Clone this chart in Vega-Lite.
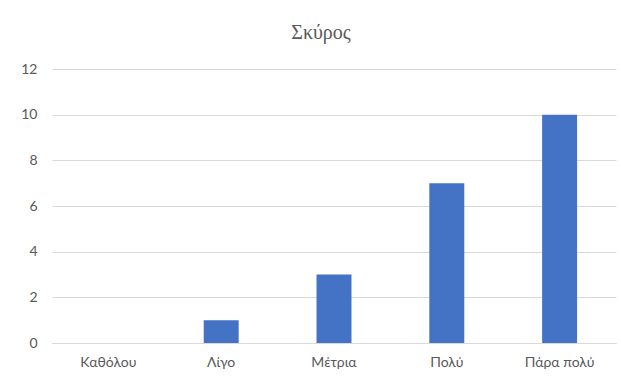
{
  "$schema": "https://vega.github.io/schema/vega-lite/v6.json",
  "autosize": {"type": "none"},
  "width": 564,
  "height": 274,
  "padding": {"left": 52, "top": 69, "right": 5, "bottom": 36},
  "background": "white",
  "config": {
    "view": {"stroke": null},
    "font": "Lato"
  },
  "title": {
    "text": "Σκύρος",
    "font": "Liberation Serif",
    "fontSize": 20,
    "fontWeight": "normal",
    "color": "#595959",
    "anchor": "middle",
    "dx": -13,
    "offset": 19
  },
  "data": {
    "values": [
      {"category": "Καθόλου", "value": 0},
      {"category": "Λίγο", "value": 1},
      {"category": "Μέτρια", "value": 3},
      {"category": "Πολύ", "value": 7},
      {"category": "Πάρα πολύ", "value": 10}
    ]
  },
  "mark": {"type": "bar", "color": "#4472C4"},
  "encoding": {
    "x": {
      "field": "category",
      "type": "nominal",
      "sort": null,
      "scale": {"paddingInner": 0.69, "paddingOuter": 0.345},
      "axis": {
        "title": null,
        "labelAngle": 0,
        "labelFontSize": 14,
        "labelColor": "#595959",
        "labelPadding": 12,
        "ticks": false,
        "domainColor": "#d9d9d9",
        "domainWidth": 1
      }
    },
    "y": {
      "field": "value",
      "type": "quantitative",
      "scale": {"domain": [0, 12], "nice": false},
      "axis": {
        "title": null,
        "values": [0, 2, 4, 6, 8, 10, 12],
        "labelFontSize": 14,
        "labelColor": "#595959",
        "labelPadding": 15,
        "ticks": false,
        "domain": false,
        "gridColor": "#d9d9d9",
        "gridWidth": 1
      }
    }
  }
}
